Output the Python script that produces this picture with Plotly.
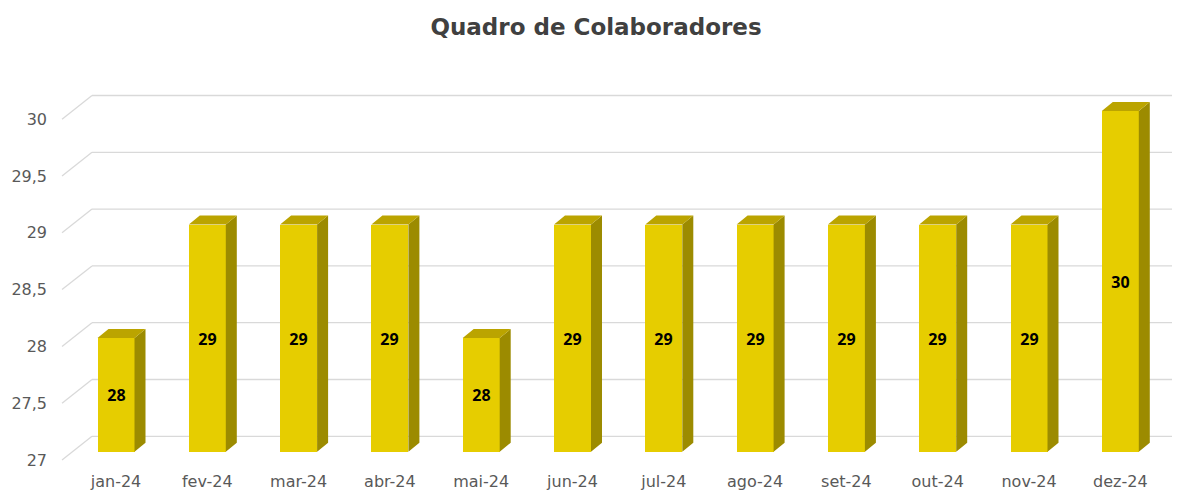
import plotly.graph_objects as go

# ---- data ----
months = ["jan-24", "fev-24", "mar-24", "abr-24", "mai-24", "jun-24",
          "jul-24", "ago-24", "set-24", "out-24", "nov-24", "dez-24"]
colaboradores = [28, 29, 29, 29, 28, 29, 29, 29, 29, 29, 29, 30]
y_ticks = [27, 27.5, 28, 28.5, 29, 29.5, 30]
y_tick_labels = ["27", "27,5", "28", "28,5", "29", "29,5", "30"]
title = "Quadro de Colaboradores"

# ---- geometry (screen pixels; page has an 8px body margin) ----
OFF = 8
W, H = 1180 - OFF, 491 - OFF
L, R, T, B = 62 - OFF, 0, 77 - OFF, 491 - 463
plot_w = W - L - R
px_x = 91.3          # pixels per category
px_y = 113.6         # pixels per unit
first_center = 116 - OFF   # x of first category
front_base_px = 451.7 - OFF  # y of value 27 on bar front face
label_base_px = 460.0 - OFF  # y of tick label for 27
grid_base_px = 436.3 - OFF   # y of back-wall gridline for 27
wall_x_px = 92 - OFF         # x where back wall starts

base = y_ticks[0]
x0 = (L - first_center) / px_x
x1 = (W - R - first_center) / px_x

def y_range(base_px):
    lo = base - (H - B - base_px) / px_y
    hi = base + (base_px - T) / px_y
    return [lo, hi]

front_range = y_range(front_base_px)
label_range = y_range(label_base_px)
grid_off = (label_base_px - grid_base_px) / px_y
wall_paper = (wall_x_px - L) / plot_w

bar_w = 37 / px_x
dx = 11 / px_x
dy = 9 / px_y

c_front = "#E6CD00"
c_top = "#BBA400"
c_side = "#9C8B00"

xs = list(range(len(months)))

fig = go.Figure()

sx, sy = [], []
tx, ty = [], []
for i, v in zip(xs, colaboradores):
    r = i + bar_w / 2
    l = i - bar_w / 2
    sx += [r, r + dx, r + dx, r, r, None]
    sy += [base, base + dy, v + dy, v, base, None]
    tx += [l, r, r + dx, l + dx, l, None]
    ty += [v, v, v + dy, v + dy, v, None]

fig.add_trace(go.Scatter(x=sx, y=sy, fill="toself", fillcolor=c_side, mode="lines",
                         line=dict(width=0, color=c_side), yaxis="y2",
                         hoverinfo="skip", showlegend=False))
fig.add_trace(go.Scatter(x=tx, y=ty, fill="toself", fillcolor=c_top, mode="lines",
                         line=dict(width=0, color=c_top), yaxis="y2",
                         hoverinfo="skip", showlegend=False))
fig.add_trace(go.Bar(x=xs, y=[v - base for v in colaboradores], base=base,
                     width=bar_w, marker=dict(color=c_front, line=dict(width=0)),
                     text=[str(v) for v in colaboradores], textposition="inside",
                     insidetextanchor="middle", textangle=0,
                     textfont=dict(family="Noto Sans", size=16, color="#000000",
                                   weight="bold"),
                     yaxis="y2", showlegend=False, hoverinfo="skip"))

shapes = []
for v in y_ticks:
    shapes.append(dict(type="line", xref="paper", yref="y", layer="below",
                       x0=wall_paper, x1=1, y0=v + grid_off, y1=v + grid_off,
                       line=dict(color="#D9D9D9", width=1.3)))
    shapes.append(dict(type="line", xref="paper", yref="y", layer="below",
                       x0=0, x1=wall_paper, y0=v, y1=v + grid_off,
                       line=dict(color="#D9D9D9", width=1.3)))

fig.update_layout(
    width=W, height=H,
    margin=dict(l=L, r=R, t=T, b=B),
    paper_bgcolor="white", plot_bgcolor="white",
    title=dict(text=title, x=(596 - OFF) / W, xanchor="center",
               y=1 - (27 - OFF) / H, yanchor="middle",
               font=dict(family="DejaVu Sans", size=23, color="#404040", weight="bold")),
    xaxis=dict(range=[x0, x1], tickvals=xs, ticktext=months, showgrid=False,
               zeroline=False, showline=False, ticks="", ticklabelstandoff=7,
               tickfont=dict(family="DejaVu Sans", size=16, color="#595959")),
    yaxis=dict(range=label_range, tickvals=y_ticks, ticktext=y_tick_labels,
               showgrid=False, zeroline=False, showline=False, ticks="",
               ticklabelstandoff=14,
               tickfont=dict(family="DejaVu Sans", size=16, color="#595959")),
    yaxis2=dict(range=front_range, overlaying="y", visible=False),
    shapes=shapes,
    bargap=0,
)

fig.write_html("out.html")
